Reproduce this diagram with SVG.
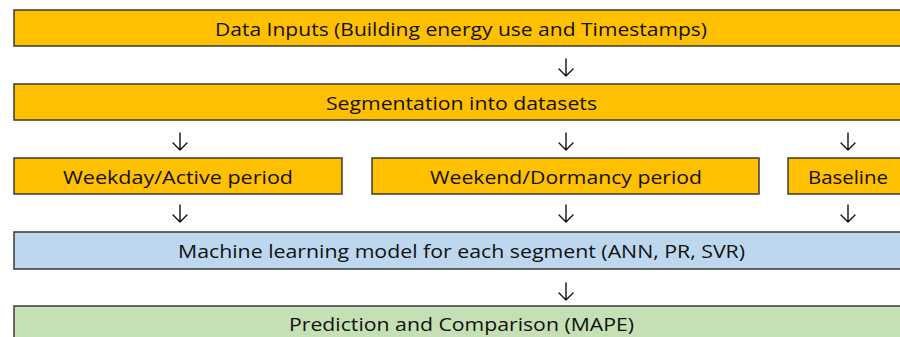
<svg xmlns="http://www.w3.org/2000/svg" width="900" height="337" viewBox="0 0 900 337">
<style>
.box{stroke:#3a3a3a;stroke-width:1.5}
.or{fill:#FFC000}
.bl{fill:#BDD7EE}
.gr{fill:#C5E0B4}
.t{font-family:"Open Sans","Liberation Sans",sans-serif;font-size:19px;fill:#111;text-anchor:middle}
.ar{fill:none;stroke:#111;stroke-width:1.4;stroke-linecap:round;stroke-linejoin:round}
</style>
<rect width="900" height="337" fill="#fff"/>
<g id="data-inputs">
<rect class="box or" x="14" y="10" width="894" height="36"/>
<text class="t" x="461" y="36" textLength="492" lengthAdjust="spacingAndGlyphs">Data Inputs (Building energy use and Timestamps)</text>
</g>
<g id="segmentation">
<rect class="box or" x="14" y="84" width="894" height="36"/>
<text class="t" x="461.5" y="110" textLength="271" lengthAdjust="spacingAndGlyphs">Segmentation into datasets</text>
</g>
<g id="weekday">
<rect class="box or" x="14" y="158" width="328" height="36"/>
<text class="t" x="178" y="184" textLength="230" lengthAdjust="spacingAndGlyphs">Weekday/Active period</text>
</g>
<g id="weekend">
<rect class="box or" x="372" y="158" width="387" height="36"/>
<text class="t" x="566" y="184" textLength="272" lengthAdjust="spacingAndGlyphs">Weekend/Dormancy period</text>
</g>
<g id="baseline">
<rect class="box or" x="788" y="158" width="130" height="36"/>
<text class="t" x="848" y="184" textLength="80" lengthAdjust="spacingAndGlyphs">Baseline</text>
</g>
<g id="ml-model">
<rect class="box bl" x="14" y="232" width="894" height="37"/>
<text class="t" x="461.5" y="258" textLength="567" lengthAdjust="spacingAndGlyphs">Machine learning model for each segment (ANN, PR, SVR)</text>
</g>
<g id="prediction">
<rect class="box gr" x="14" y="306" width="894" height="40"/>
<text class="t" x="461.5" y="331" textLength="345" lengthAdjust="spacingAndGlyphs">Prediction and Comparison (MAPE)</text>
</g>
<g id="connectors">
<path class="ar" d="M566 59V76M559 69L566 76L573 69"/>
<path class="ar" d="M180 133V150M173 143L180 150L187 143"/>
<path class="ar" d="M566 133V150M559 143L566 150L573 143"/>
<path class="ar" d="M848 133V150M841 143L848 150L855 143"/>
<path class="ar" d="M180 205V222M173 215L180 222L187 215"/>
<path class="ar" d="M566 205V222M559 215L566 222L573 215"/>
<path class="ar" d="M848 205V222M841 215L848 222L855 215"/>
<path class="ar" d="M566 283V300M559 293L566 300L573 293"/>
</g>
</svg>
